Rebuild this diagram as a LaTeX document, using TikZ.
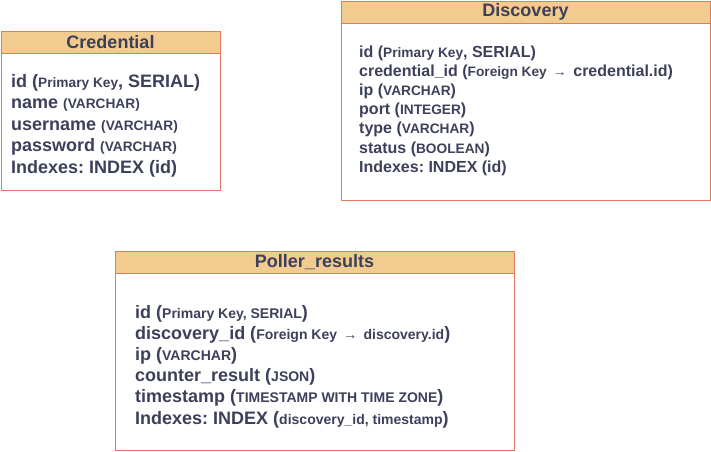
\documentclass[tikz,border=0pt]{standalone}
\usepackage{fontspec}
\setmainfont{Liberation Sans}
\frenchspacing
\definecolor{hdr}{HTML}{F2CC8F}
\definecolor{brd}{HTML}{E07A5F}
\definecolor{txt}{HTML}{3D405B}
\newcommand\smtxt[1]{{\fontsize{13.7}{15}\selectfont #1}}
\newcommand\smtxtb[1]{{\fontsize{14}{15}\selectfont #1}}
\tikzset{
  tbl/.style={draw=brd, line width=1pt, fill=white, anchor=north west, inner sep=0pt, outer sep=0pt},
  hd/.style={draw=brd, line width=1pt, fill=hdr, anchor=north west, inner sep=0pt, outer sep=0pt,
    minimum height=22pt, text=txt, font=\fontsize{18}{20}\selectfont\bfseries},
  row/.style={anchor=base west, inner sep=0pt, text=txt, font=\fontsize{18}{20}\selectfont\bfseries},
  rowd/.style={row, font=\fontsize{16}{18}\selectfont\bfseries}
}
\begin{document}
\begin{tikzpicture}[x=1pt,y=-1pt]
\useasboundingbox (0,0) rectangle (711,451);
% Credential
\node[tbl, minimum width=219pt, minimum height=159pt] (cred) at (1,31) {};
\node[hd, minimum width=219pt] (credh) at (1,31) {Credential};
\node[row] (c1) at (11,87) {id (\smtxt{Primary Key}, SERIAL)};
\node[row] (c2) at (11,108.5) {name \smtxt{(VARCHAR)}};
\node[row] (c3) at (11,130) {username \smtxt{(VARCHAR)}};
\node[row] (c4) at (11,151.5) {password \smtxt{(VARCHAR)}};
\node[row] (c5) at (11,173) {Indexes: INDEX (id)};
% Discovery
\node[tbl, minimum width=369pt, minimum height=199pt] (disc) at (341,1) {};
\node[hd, minimum width=369pt] (disch) at (341,1) {Discovery};
\node[rowd] (d1) at (359,57) {id (\smtxt{Primary Key}, SERIAL)};
\node[rowd] (d2) at (359,76.2) {credential\_id (\smtxt{Foreign Key {\mdseries\,→\,}} credential.id)};
\node[rowd] (d3) at (359,95.4) {ip (\smtxt{VARCHAR})};
\node[rowd] (d4) at (359,114.6) {port (\smtxt{INTEGER})};
\node[rowd] (d5) at (359,133.8) {type (\smtxt{VARCHAR})};
\node[rowd] (d6) at (359,153) {status (\smtxt{BOOLEAN})};
\node[rowd] (d7) at (359,172.2) {Indexes: INDEX (id)};
% Poller_results
\node[tbl, minimum width=399pt, minimum height=199pt] (poll) at (115,251) {};
\node[hd, minimum width=399pt] (pollh) at (115,251) {Poller\_results};
\node[row] (p1) at (135,318) {id (\smtxtb{Primary Key, SERIAL})};
\node[row] (p2) at (135,339.2) {discovery\_id (\smtxtb{Foreign Key {\mdseries\,→\,} discovery.id})};
\node[row] (p3) at (135,360.4) {ip (\smtxtb{VARCHAR})};
\node[row] (p4) at (135,381.6) {counter\_result (\smtxtb{JSON})};
\node[row] (p5) at (135,402.8) {timestamp (\smtxtb{TIMESTAMP WITH TIME ZONE})};
\node[row] (p6) at (135,424) {Indexes: INDEX (\smtxtb{discovery\_id, timestamp})};
\end{tikzpicture}
\end{document}
